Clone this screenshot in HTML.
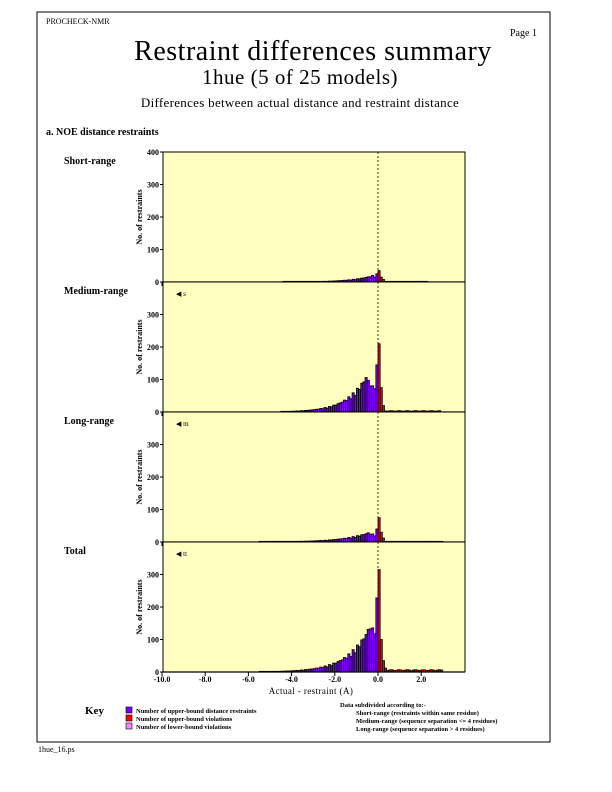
<!DOCTYPE html>
<html><head><meta charset="utf-8"><style>
body{margin:0;background:#fff;}
svg{display:block;font-family:"Liberation Serif",serif;}
</style></head><body>
<svg id="s" width="612" height="792" xmlns="http://www.w3.org/2000/svg">
<rect x="37" y="12" width="513" height="730" fill="none" stroke="#000" stroke-width="1"/>
<text x="46" y="24" font-size="8">PROCHECK-NMR</text>
<text x="510" y="36" font-size="10">Page  1</text>
<text x="313" y="60" font-size="28" text-anchor="middle" letter-spacing="0.5">Restraint differences summary</text>
<text x="300" y="84" font-size="21" text-anchor="middle" letter-spacing="0.5">1hue (5 of 25 models)</text>
<text x="300" y="107" font-size="13" text-anchor="middle" letter-spacing="0.3">Differences between actual distance and restraint distance</text>
<text x="46" y="135" font-size="10" font-weight="bold">a. NOE distance restraints</text>
<g id="g"></g>
<text x="311" y="694" font-size="9" text-anchor="middle" letter-spacing="0.4">Actual - restraint (A)</text>
<text x="85" y="714" font-size="11" font-weight="bold">Key</text>
<rect x="126" y="707" width="6" height="6" fill="#7a00ff" stroke="#000" stroke-width="0.6"/>
<rect x="126" y="715" width="6" height="6" fill="#ff0000" stroke="#000" stroke-width="0.6"/>
<rect x="126" y="723" width="6" height="6" fill="#ff80ff" stroke="#000" stroke-width="0.6"/>
<text x="136" y="713" font-size="6.5" font-weight="bold">Number of upper-bound distance restraints</text>
<text x="136" y="721" font-size="6.5" font-weight="bold">Number of upper-bound violations</text>
<text x="136" y="729" font-size="6.5" font-weight="bold">Number of lower-bound violations</text>
<text x="340" y="707" font-size="6.5" font-weight="bold">Data subdivided according to:-</text>
<text x="356" y="715" font-size="6.5" font-weight="bold">Short-range (restraints within same residue)</text>
<text x="356" y="723" font-size="6.5" font-weight="bold">Medium-range (sequence separation &lt;= 4 residues)</text>
<text x="356" y="731" font-size="6.5" font-weight="bold">Long-range (sequence separation &gt; 4 residues)</text>
<line x1="37" y1="742" x2="550" y2="742" stroke="#000"/>
<text x="38" y="752" font-size="8">1hue_16.ps</text>
</svg>
<script>
var g=document.getElementById('g'),h='';
var X0=163,X1=465,Z=378,U=21.6;
function px(x){return Z+U*x;}
var panels=[
 {y:152,name:'Short-range',icon:'',lo:-4.4,hi:2.2,f:function(x){return 18*Math.exp(-Math.abs(x+0.3)/1.0);},pk:{'-0.1':25,'0.0':35,'0.1':15,'0.2':8}},
 {y:282,name:'Medium-range',icon:'s',lo:-4.5,hi:2.8,f:function(x){return 100*Math.exp(-Math.abs(x+0.6)/0.9);},pk:{'-0.1':145,'0.0':210,'0.1':75,'0.2':20,'-0.2':72}},
 {y:412,name:'Long-range',icon:'m',lo:-5.5,hi:2.9,f:function(x){return 26*Math.exp(-Math.abs(x+0.5)/1.2);},pk:{'-0.1':40,'0.0':75,'0.1':30,'0.2':12}},
 {y:542,name:'Total',icon:'tt',lo:-5.5,hi:2.9,f:function(x){return 133*Math.exp(-Math.abs(x+0.4)/1.0);},pk:{'-0.2':118,'-0.1':228,'0.0':315,'0.1':100,'0.2':35,'0.3':12}}
];
panels.forEach(function(p,pi){
 var y0=p.y,yb=p.y+130,sc=130/400;
 h+='<rect x="'+X0+'" y="'+y0+'" width="'+(X1-X0)+'" height="130" fill="#ffffc0" stroke="#000" stroke-width="1"/>';
 h+='<text x="64" y="'+(y0+12)+'" font-size="10" font-weight="bold">'+p.name+'</text>';
 if(p.icon)h+='<text x="176" y="'+(y0+14)+'" font-size="7">&#9664; '+p.icon+'</text>';
 for(var v=0;v<=400;v+=100){
  if(v==400&&pi>0)continue;
  var yy=yb-v*sc;
  h+='<line x1="'+(X0-3)+'" y1="'+yy+'" x2="'+X0+'" y2="'+yy+'" stroke="#000"/>';
  h+='<text x="'+(X0-4)+'" y="'+(yy+3)+'" font-size="8" text-anchor="end" font-weight="bold">'+v+'</text>';
 }
 h+='<text transform="translate(142,'+(yb-65)+') rotate(-90)" font-size="8" text-anchor="middle" font-weight="bold">No. of restraints</text>';
 for(var k=-10;k<=2;k+=2){
  var xx=px(k);
  h+='<line x1="'+xx+'" y1="'+yb+'" x2="'+xx+'" y2="'+(yb+4)+'" stroke="#000"/>';
 }
 var bw=U*0.1;
 for(var i=Math.round(p.lo*10);i<=Math.round(p.hi*10);i++){
  var x=i/10,key=x.toFixed(1);if(key=='-0.0')key='0.0';
  var c;
  if(p.pk[key]!==undefined)c=p.pk[key];
  else if(x<0)c=p.f(x)*(0.85+0.3*Math.abs(Math.sin(i*1.7)));
  else c=Math.max(2,p.f(0)*0.04*(1+Math.abs(Math.sin(i*2.3))));
  c=Math.max(c,2);
  var hh=c*sc;
  h+='<rect x="'+px(x).toFixed(2)+'" y="'+(yb-hh).toFixed(2)+'" width="'+bw.toFixed(2)+'" height="'+hh.toFixed(2)+'" fill="'+(x<0?'#7a00ff':'#ff0000')+'" stroke="#000" stroke-width="0.8"/>';
 }
 h+='<line x1="'+Z+'" y1="'+y0+'" x2="'+Z+'" y2="'+yb+'" stroke="#000" stroke-dasharray="2,2" stroke-width="0.8"/>';
 h+='<line x1="'+X0+'" y1="'+yb+'" x2="'+X1+'" y2="'+yb+'" stroke="#000" stroke-width="1.3"/>';
});
[-10,-8,-6,-4,-2,0,2].forEach(function(k){h+='<text x="'+px(k)+'" y="682" font-size="8" text-anchor="middle" font-weight="bold">'+(k==0?'0.0':k.toFixed(1))+'</text>';});
g.innerHTML=h;
</script>
</body></html>
